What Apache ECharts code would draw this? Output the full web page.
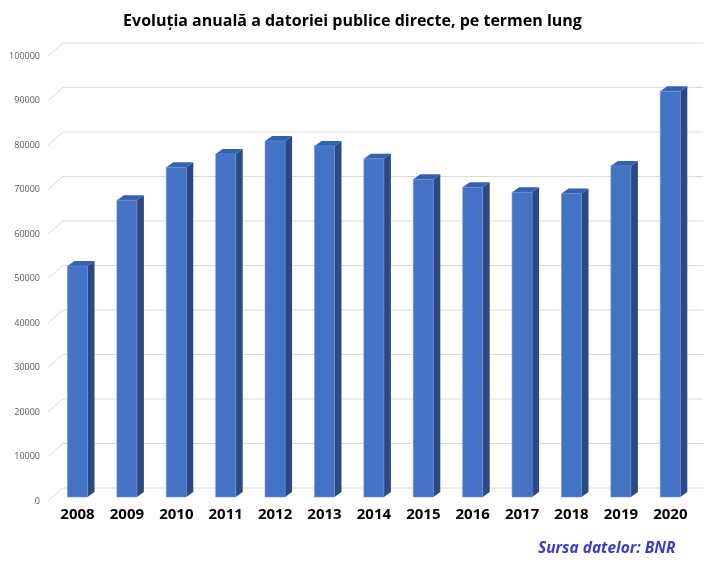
<!DOCTYPE html>
<html>
<head>
<meta charset="utf-8">
<script src="https://cdn.jsdelivr.net/npm/echarts@6/dist/echarts.min.js"></script>
<style>html,body{margin:0;padding:0;background:#fff;}#c{width:705px;height:561px;}</style>
</head>
<body>
<div id="c"></div>
<script>
var categories = ['2008','2009','2010','2011','2012','2013','2014','2015','2016','2017','2018','2019','2020'];
var values = [51900, 66700, 74100, 77100, 80000, 78900, 76000, 71400, 69600, 68500, 68200, 74400, 91200];
var yTicks = [0,10000,20000,30000,40000,50000,60000,70000,80000,90000,100000];

var chart = echarts.init(document.getElementById('c'));
var FONT = '"Open Sans", "Liberation Sans", sans-serif';

function renderBar(params, api) {
  var i = api.value(0), v = api.value(1);
  var p0 = api.coord([i, 0]);
  var p1 = api.coord([i, v]);
  var w = 20, dx = 7, dy = 5;
  var x = p0[0] - w / 2, yt = p1[1], yb = p0[1];
  return {
    type: 'group',
    children: [
      { type: 'polygon', shape: { points: [[x + w, yt], [x + w + dx, yt - dy], [x + w + dx, yb - dy], [x + w, yb]] },
        style: { fill: '#2b4a85' } },
      { type: 'polygon', shape: { points: [[x, yt], [x + dx, yt - dy], [x + w + dx, yt - dy], [x + w, yt]] },
        style: { fill: '#3361b0' } },
      { type: 'rect', shape: { x: x, y: yt, width: w, height: yb - yt },
        style: { fill: '#4472c4', stroke: '#6a90d6', lineWidth: 0.6 } }
    ]
  };
}

function renderGrid(params, api) {
  var v = api.value(0);
  var p = api.coord([0, v]);
  var y = p[1];
  return {
    type: 'group',
    children: [
      { type: 'line', shape: { x1: 48, y1: y + 4, x2: 63, y2: y - 9 }, style: { stroke: '#d9d9d9', lineWidth: 1 } },
      { type: 'line', shape: { x1: 63, y1: y - 9, x2: 703, y2: y - 9 }, style: { stroke: '#d9d9d9', lineWidth: 1 } },
      { type: 'text', x: 40, y: y + 4,
        style: { text: String(v), align: 'right', verticalAlign: 'middle', fontFamily: FONT, fontSize: 9, fill: '#595959' } }
    ]
  };
}

chart.setOption({
  animation: false,
  backgroundColor: '#ffffff',
  title: {
    text: 'Evoluția anuală a datoriei publice directe, pe termen lung',
    left: 'center', top: 8,
    textStyle: { fontFamily: FONT, fontSize: 16, fontWeight: 'bold', color: '#000' }
  },
  graphic: [{
    type: 'text', left: 538, top: 541,
    style: { text: 'Sursa datelor: BNR', fontFamily: FONT, fontSize: 15.5, fontStyle: 'italic', fontWeight: 'bold', fill: '#3c3cc4' }
  }],
  grid: { left: 52.8, right: 10, top: 52, bottom: 64 },
  xAxis: {
    type: 'category', data: categories, boundaryGap: true,
    axisLine: { show: false }, axisTick: { show: false },
    axisLabel: { margin: 10, fontFamily: FONT, fontSize: 15, fontWeight: 'bold', color: '#000' }
  },
  yAxis: {
    type: 'value', min: 0, max: 100000, interval: 10000,
    axisLine: { show: false }, axisTick: { show: false }, splitLine: { show: false },
    axisLabel: { show: false }
  },
  series: [
    { type: 'custom', renderItem: renderGrid, data: yTicks.map(function (t) { return [t]; }),
      encode: { y: 0 }, clip: false, silent: true, z: 1 },
    { type: 'custom', renderItem: renderBar, data: values.map(function (v, i) { return [i, v]; }),
      encode: { x: 0, y: 1 }, clip: false, z: 2 }
  ]
});
</script>
</body>
</html>
